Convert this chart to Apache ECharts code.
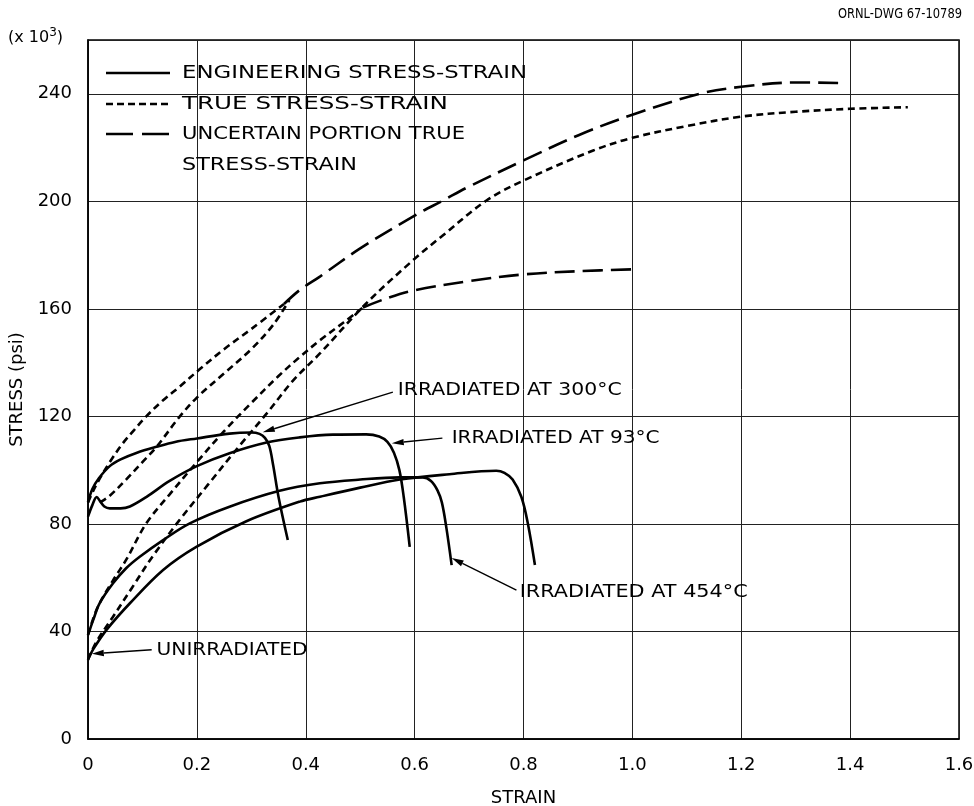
<!DOCTYPE html>
<html><head><meta charset="utf-8">
<script src="https://cdn.jsdelivr.net/npm/echarts@6/dist/echarts.min.js"></script>
<style>html,body{margin:0;padding:0;background:#fff}#c{width:974px;height:806px}</style>
</head><body><div id="c"></div>
<script>
// ---------- DATA (strain, stress ksi) ----------
const xTickLabels = ['0','0.2','0.4','0.6','0.8','1.0','1.2','1.4','1.6'];
const yTickLabels = ['0','40','80','120','160','200','240'];

const eng300 = [[0,88],[0.008,93],[0.02,97],[0.04,101.5],[0.06,104],[0.09,106.5],[0.126,108.7],[0.16,110.5],[0.2,111.8],[0.26,113.6],[0.3,114],[0.315,113.5],[0.325,112],[0.333,109],[0.34,102],[0.35,90],[0.367,74]];
const eng93 = [[0,82.7],[0.008,87],[0.016,90],[0.022,88.5],[0.03,86.5],[0.04,85.8],[0.06,85.8],[0.077,86.5],[0.107,90],[0.15,96],[0.2,101.5],[0.26,106.3],[0.328,110.3],[0.389,112.2],[0.45,113.2],[0.511,113.3],[0.535,112.5],[0.55,110.5],[0.562,106.5],[0.572,100],[0.58,90],[0.591,71.5]];
const eng454 = [[0,38.7],[0.01,44.5],[0.0215,50.5],[0.046,57.9],[0.07,63.5],[0.095,67.8],[0.138,74],[0.187,80.2],[0.26,86.4],[0.352,92.3],[0.426,95.1],[0.5,96.5],[0.573,97.3],[0.615,97.3],[0.63,96],[0.642,92.5],[0.65,88],[0.658,79],[0.668,64.7]];
const engUnirr = [[0,29.5],[0.01,33.5],[0.034,40.6],[0.077,50.5],[0.138,62.9],[0.199,71.5],[0.291,81],[0.389,88.3],[0.426,90.1],[0.5,93.5],[0.573,96.5],[0.664,98.5],[0.75,99.8],[0.765,99],[0.78,96.5],[0.796,90.1],[0.808,80.2],[0.821,64.7]];

const true300 = [[0,88],[0.01,92.5],[0.022,97],[0.04,103],[0.064,110],[0.085,115],[0.107,120],[0.138,126],[0.168,131],[0.205,137.5],[0.25,145],[0.3,152.5],[0.36,161.8]];
const unc300 = [[0.36,161.8],[0.389,167],[0.426,172],[0.5,182.5],[0.6,194.7],[0.652,200.3],[0.7,205.5],[0.8,215.2],[0.9,224.5],[1.0,232.2],[1.124,240],[1.2,242.6],[1.3,244.2],[1.387,244]];
const true93 = [[0.022,88],[0.04,90.5],[0.07,96.5],[0.1,103],[0.126,108.7],[0.168,119.8],[0.2,127],[0.25,136],[0.3,145],[0.34,154],[0.37,163.3]];
const true454 = [[0,38.7],[0.01,45],[0.02,50],[0.046,59],[0.07,66.6],[0.107,80.2],[0.15,91],[0.2,103],[0.25,114.5],[0.3,125],[0.35,135],[0.389,142.1],[0.426,148.3],[0.47,155],[0.505,160.5]];
const unc454 = [[0.505,160.5],[0.55,164],[0.6,166.9],[0.7,170.3],[0.8,172.8],[0.9,174],[1.004,174.7]];
const trueUnirr = [[0,29.5],[0.015,36],[0.046,45.5],[0.08,56],[0.119,68],[0.168,81.4],[0.22,94.5],[0.28,109.5],[0.328,121],[0.377,133.4],[0.426,143.4],[0.511,162],[0.6,178.6],[0.65,187],[0.732,200.3],[0.8,207.7],[0.928,218.9],[1.0,223.6],[1.1,228],[1.2,231.5],[1.3,233.3],[1.4,234.4],[1.506,235]];

const legendNames = ['ENGINEERING STRESS-STRAIN','TRUE STRESS-STRAIN','UNCERTAIN PORTION TRUE','STRESS-STRAIN'];
const annotationTexts = ['IRRADIATED AT 300°C','IRRADIATED AT 93°C','IRRADIATED AT 454°C','UNIRRADIATED'];

// ---------- LAYOUT / STYLE ----------
const FONT = 'DejaVu Sans';
const SOLID = 'solid', SHORT = [7,4.5], LONG = [20,8];
const LW = 2.6;
// annotation geometry in data coords: arrow tip, arrow tail, label anchor, label target width
const annLayout = [
  {tip:[0.321,114.1], tail:[0.56,129], label:[0.569,129.6], w:224},
  {tip:[0.558,110], tail:[0.651,111.9], label:[0.668,111.9], w:208},
  {tip:[0.668,67.3], tail:[0.787,55.4], label:[0.793,54.7], w:228},
  {tip:[0.007,31.7], tail:[0.117,33.2], label:[0.126,32.9], w:151}
];

const ctx = document.createElement('canvas').getContext('2d');
function measure(t, size){ ctx.font = size + 'px "' + FONT + '"'; return ctx.measureText(t).width; }

function ln(name, data, type){
  return {type:'line', name, data, symbol:'none', showSymbol:false, smooth:0.35, silent:true,
    animation:false, z:3, lineStyle:{color:'#000', width:LW, type:type, cap:'butt'}};
}

const chart = echarts.init(document.getElementById('c'));
chart.setOption({
  animation:false,
  backgroundColor:'#fff',
  grid:{left:88, right:15, top:40, bottom:67, show:true, borderColor:'#000', borderWidth:1.5,
    containLabel:false, outerBoundsMode:'none'},
  xAxis:{type:'value', min:0, max:1.6, interval:0.2,
    name:'STRAIN', nameLocation:'middle', nameGap:50,
    nameTextStyle:{fontFamily:FONT, fontSize:18, color:'#000'},
    axisLine:{show:true, lineStyle:{color:'#000', width:1.5}},
    axisTick:{show:false},
    axisLabel:{fontFamily:FONT, fontSize:18, color:'#000', margin:17,
      formatter:v=>xTickLabels[Math.round(v/0.2)]},
    splitLine:{show:true, lineStyle:{color:'#222', width:1}}},
  yAxis:{type:'value', min:0, max:260, interval:40,
    name:'STRESS (psi)', nameLocation:'middle', nameGap:55, nameRotate:90,
    nameTextStyle:{fontFamily:FONT, fontSize:18, color:'#000'},
    axisLine:{show:true, lineStyle:{color:'#000', width:1.5}},
    axisTick:{show:false},
    axisLabel:{fontFamily:FONT, fontSize:18, color:'#000', margin:16, showMaxLabel:false,
      formatter:v=>(v%40===0 && v<=240) ? yTickLabels[v/40] : ''},
    splitLine:{show:true, lineStyle:{color:'#222', width:1}}},
  series:[
    ln('ENGINEERING STRESS-STRAIN 300', eng300, SOLID),
    ln('ENGINEERING STRESS-STRAIN 93', eng93, SOLID),
    ln('ENGINEERING STRESS-STRAIN 454', eng454, SOLID),
    ln('ENGINEERING STRESS-STRAIN UNIRR', engUnirr, SOLID),
    ln('TRUE 300', true300, SHORT),
    ln('TRUE 93', true93, SHORT),
    ln('TRUE 454', true454, SHORT),
    ln('TRUE UNIRR', trueUnirr, SHORT),
    ln('UNCERTAIN 300', unc300, LONG),
    ln('UNCERTAIN 454', unc454, LONG)
  ]
});

const g = [];
function scaledText(text, x, y, size, targetW, extra){
  const w = measure(text, size);
  const s = targetW ? targetW / w : 1;
  g.push(Object.assign({type:'text', x:x, y:y, scaleX:s, z:10, silent:true,
    style:{text:text, x:0, y:0, fontFamily:FONT, fontSize:size, fill:'#000', align:'left', verticalAlign:'middle'}}, extra||{}));
}
// Legend
const legRows = [73,104,134];
const legDash = [null, [7,4], [27,9]];
legRows.forEach((ry,i)=>{
  g.push({type:'line', shape:{x1:106, y1:ry, x2:170, y2:ry}, z:10, silent:true,
    style:{stroke:'#000', lineWidth:LW, lineDash:legDash[i]}});
});
const legTextY = [73,104,134,165], legTextW = [345,266,283,175];
legendNames.forEach((t,i)=>scaledText(t, 182, legTextY[i], 18, legTextW[i]));

// annotations
annLayout.forEach((a,i)=>{
  const T = chart.convertToPixel({gridIndex:0}, a.tip);
  const S = chart.convertToPixel({gridIndex:0}, a.tail);
  const L = chart.convertToPixel({gridIndex:0}, a.label);
  const dx = T[0]-S[0], dy = T[1]-S[1], len = Math.hypot(dx,dy);
  const ux = dx/len, uy = dy/len, nx = -uy, ny = ux;
  const bx = T[0]-ux*12, by = T[1]-uy*12;
  g.push({type:'line', shape:{x1:S[0], y1:S[1], x2:bx, y2:by}, z:10, silent:true, style:{stroke:'#000', lineWidth:1.4}});
  g.push({type:'polygon', shape:{points:[[T[0],T[1]],[bx+nx*3.2,by+ny*3.2],[bx-nx*3.2,by-ny*3.2]]}, z:10, silent:true, style:{fill:'#000'}});
  scaledText(annotationTexts[i], L[0], L[1], 18, a.w);
});

// header texts
scaledText('ORNL-DWG 67-10789', 838, 14, 14, 124);
g.push({type:'text', x:8, y:38, z:10, silent:true,
  style:{text:'(x 10{s|3})', fontFamily:FONT, fontSize:16, fill:'#000', align:'left', verticalAlign:'middle',
    rich:{s:{fontFamily:FONT, fontSize:12, fill:'#000', verticalAlign:'top', lineHeight:22}}}});

chart.setOption({graphic:g});
</script>
</body></html>
